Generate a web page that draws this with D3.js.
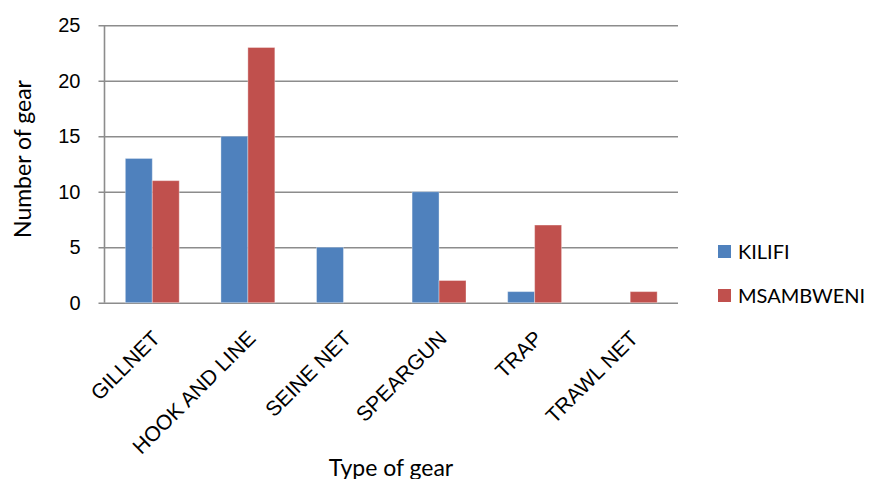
<!DOCTYPE html>
<html>
<head>
<meta charset="utf-8">
<script src="https://cdn.jsdelivr.net/npm/d3@7/dist/d3.min.js"></script>
<style>
  html, body { margin: 0; padding: 0; background: #fff; }
  svg { display: block; font-family: Lato, "Open Sans", sans-serif; }
</style>
</head>
<body>
<svg id="chart" width="869" height="479"></svg>
<script>
// Gear counts by landing site
const categories = ["GILLNET", "HOOK AND LINE", "SEINE NET", "SPEARGUN", "TRAP", "TRAWL NET"];
const kilifi = [13, 15, 5, 10, 1, 0];
const msambweni = [11, 23, 0, 2, 7, 1];
const seriesNames = ["KILIFI", "MSAMBWENI"];
const seriesColors = ["#4F81BD", "#C0504D"];
const yTicks = [0, 5, 10, 15, 20, 25];

const svg = d3.select("#chart");
const plot = { left: 104.5, right: 678, top: 25.3, bottom: 302.7 };

const x = d3.scaleBand().domain(categories).range([plot.left, plot.right]).padding(0);
const y = d3.scaleLinear().domain([0, 25]).range([plot.bottom, plot.top]);

const barW = x.bandwidth() * 0.282;

// Horizontal gridlines with short outside ticks
const yAxis = d3.axisLeft(y).tickValues(yTicks).tickSize(-(plot.right - plot.left)).tickPadding(24);
const gy = svg.append("g").attr("transform", `translate(${plot.left},0)`).call(yAxis);
gy.select(".domain").remove();
gy.selectAll(".tick line")
  .attr("x1", -6)
  .attr("stroke", "#8c8c8c")
  .attr("stroke-width", 1.6);
gy.selectAll(".tick text")
  .attr("font-size", 20)
  .attr("fill", "#000");

// Vertical axis line
svg.append("line")
  .attr("x1", plot.left).attr("x2", plot.left)
  .attr("y1", plot.top).attr("y2", plot.bottom)
  .attr("stroke", "#8c8c8c").attr("stroke-width", 1.6);

// Bars
const series = [kilifi, msambweni];
series.forEach((vals, si) => {
  svg.append("g").selectAll("rect")
    .data(categories.map((c, i) => ({ c, v: vals[i] })))
    .join("rect")
    .attr("x", d => x(d.c) + x.bandwidth() / 2 - barW + si * barW)
    .attr("width", barW)
    .attr("y", d => y(d.v))
    .attr("height", d => y(0) - y(d.v))
    .attr("fill", seriesColors[si])
    .attr("stroke", d => d.v > 0 ? "rgba(255,255,255,0.35)" : "none")
    .attr("stroke-width", 1);
});

// Category labels, rotated
const xAxis = d3.axisBottom(x).tickSize(0).tickPadding(0);
const gx = svg.append("g").attr("transform", `translate(0,${plot.bottom})`).call(xAxis);
gx.select(".domain").remove();
gx.selectAll(".tick text")
  .attr("font-size", 21)
  .attr("fill", "#000")
  .attr("text-anchor", "end")
  .attr("dy", 0)
  .attr("transform", "translate(9,37) rotate(-45)");

// Axis titles
svg.append("text")
  .attr("transform", "translate(31,159) rotate(-90)")
  .attr("text-anchor", "middle")
  .attr("font-size", 23)
  .text("Number of gear");

svg.append("text")
  .attr("x", 391).attr("y", 476)
  .attr("text-anchor", "middle")
  .attr("font-size", 23)
  .text("Type of gear");

// Legend
const legend = svg.append("g");
seriesNames.forEach((name, i) => {
  const gy0 = 245 + i * 44;
  legend.append("rect")
    .attr("x", 718).attr("y", gy0)
    .attr("width", 13).attr("height", 13)
    .attr("fill", seriesColors[i]);
  legend.append("text")
    .attr("x", 738).attr("y", gy0 + 6.5)
    .attr("dy", "0.35em")
    .attr("font-size", 20)
    .text(name);
});
</script>
</body>
</html>
